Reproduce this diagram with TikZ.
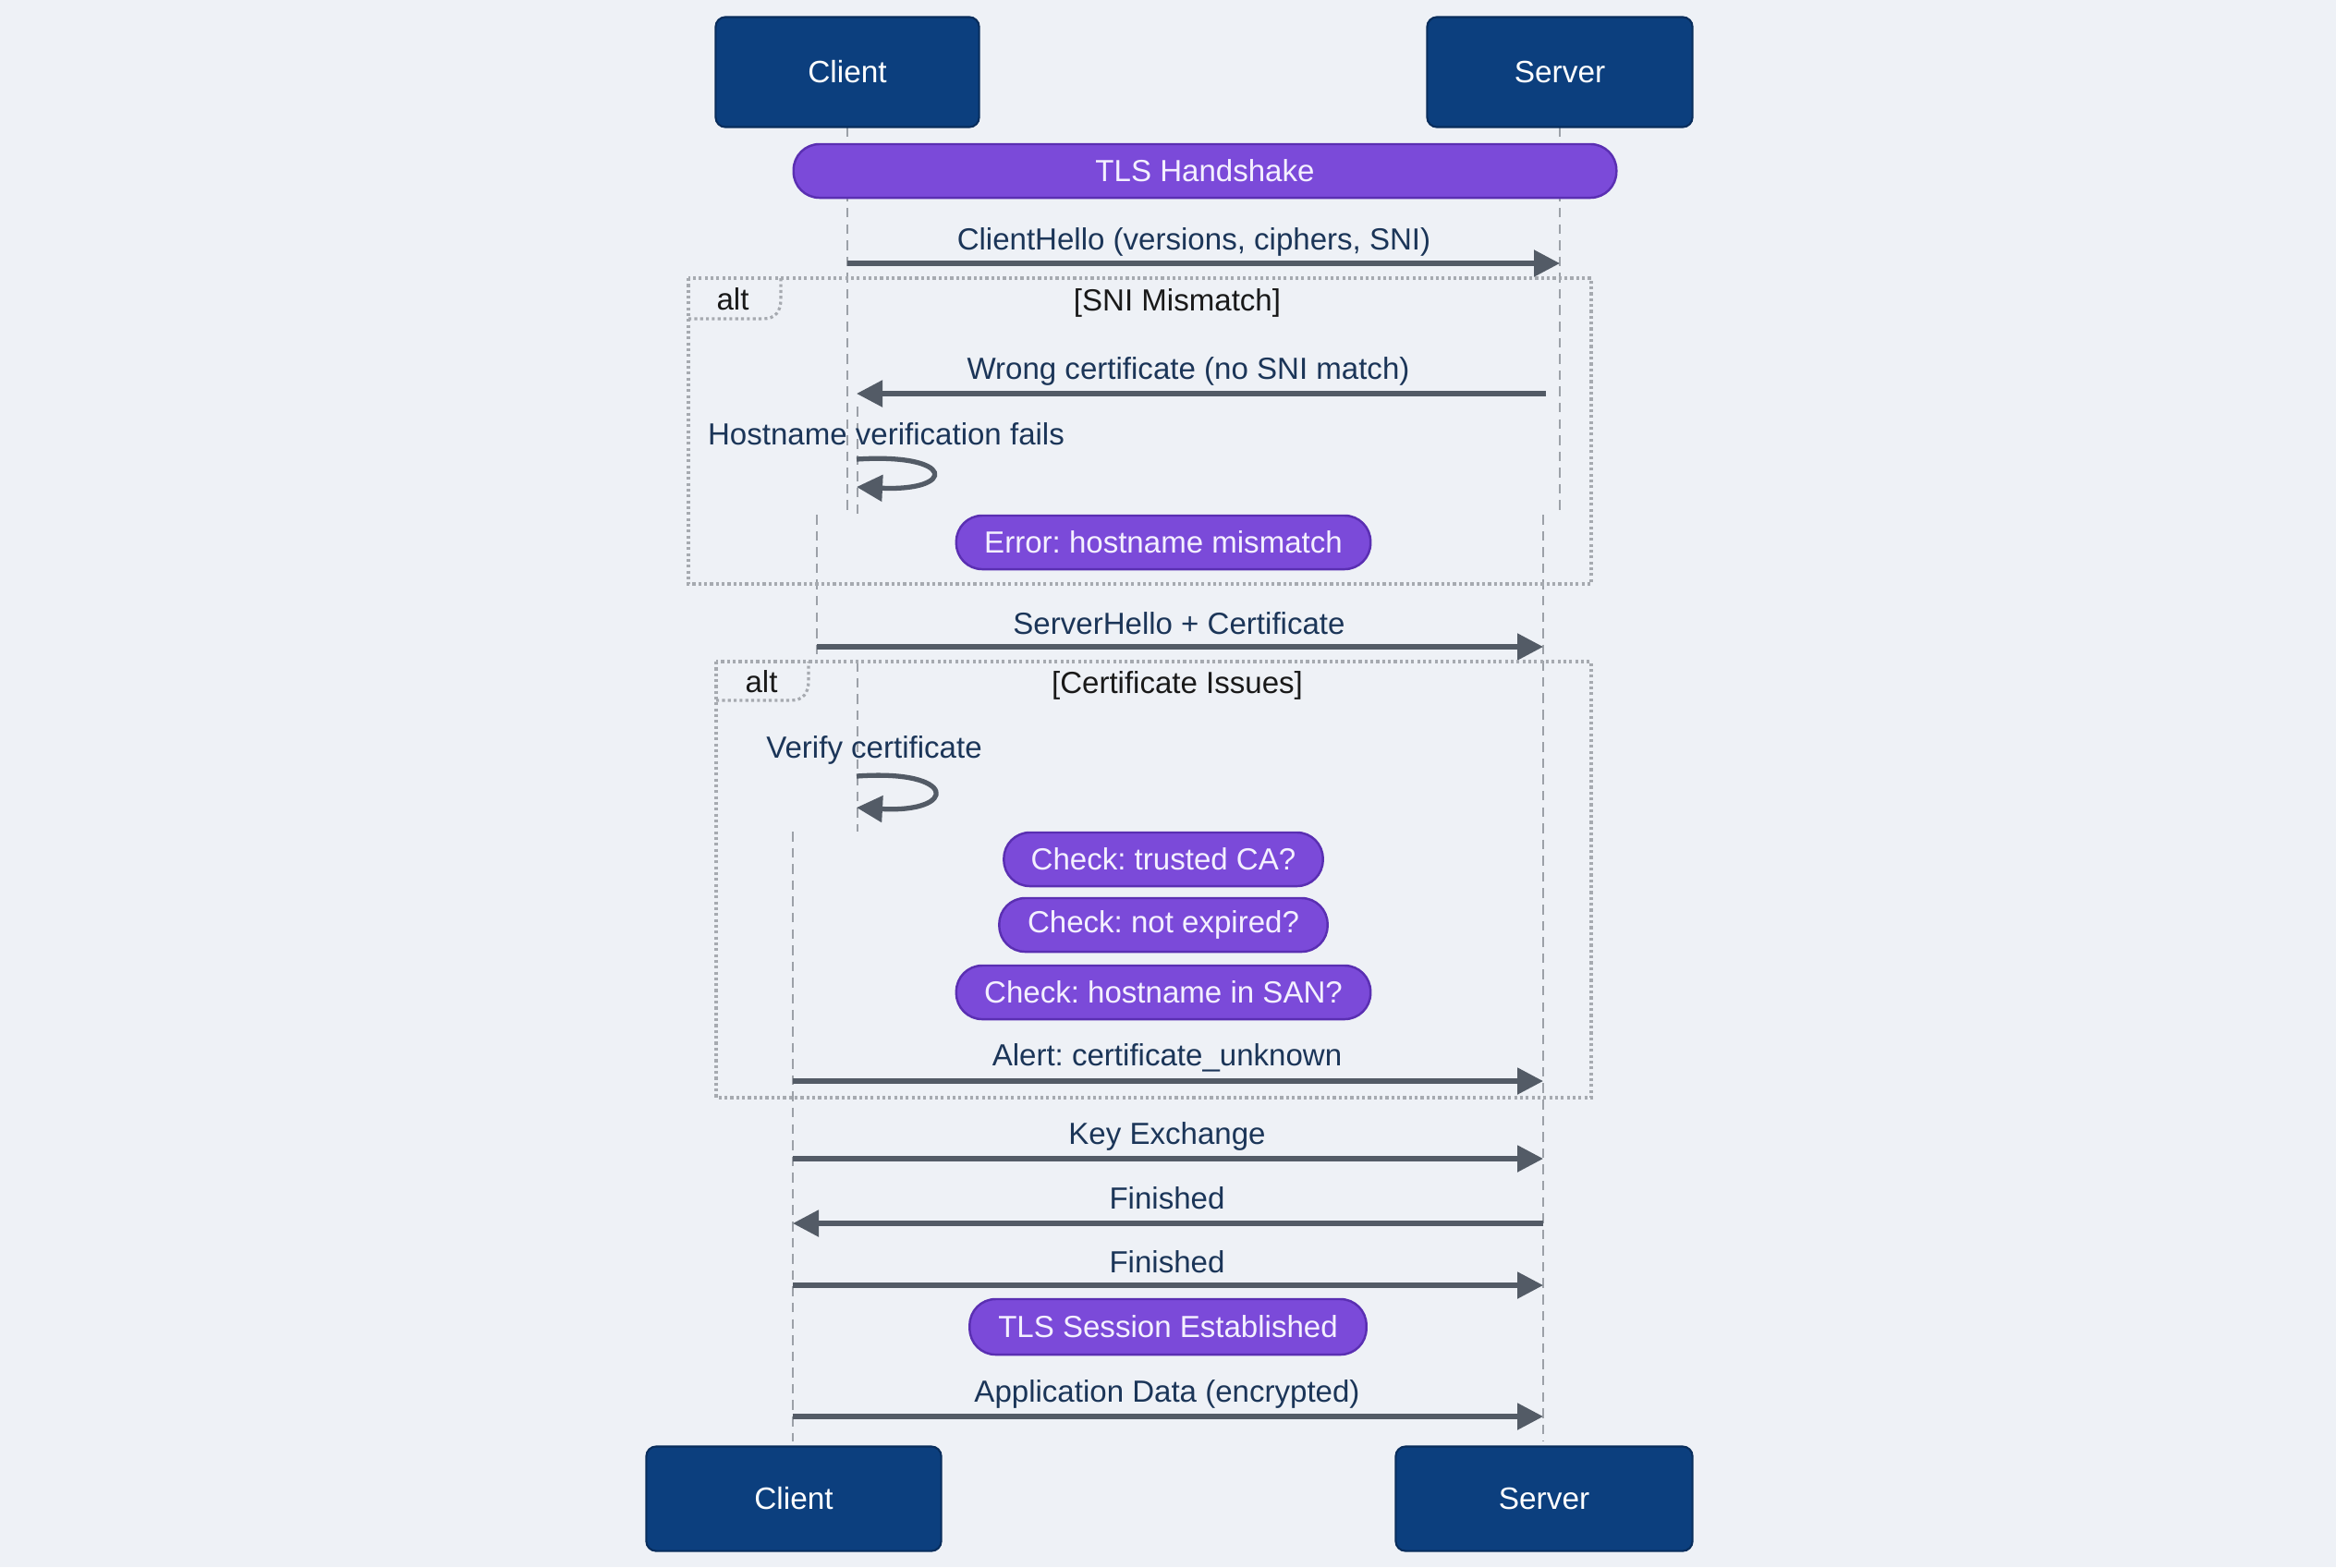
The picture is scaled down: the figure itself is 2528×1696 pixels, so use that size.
\documentclass[tikz,border=0pt]{standalone}
\usepackage{fontspec}
\setmainfont{Liberation Sans}
\usetikzlibrary{arrows.meta}
\definecolor{bg}{HTML}{EEF1F6}
\definecolor{actorfill}{HTML}{0C3F7E}
\definecolor{actorborder}{HTML}{082D5C}
\definecolor{pillfill}{HTML}{7B4AD9}
\definecolor{pillborder}{HTML}{5A2FB2}
\definecolor{pilltext}{HTML}{F4F0FF}
\definecolor{arrowgray}{HTML}{535B66}
\definecolor{labeltext}{HTML}{1B3558}
\definecolor{lifegray}{HTML}{9CA1A8}
\definecolor{framegray}{HTML}{A6AAB0}
\tikzset{
  actor/.style={draw=actorborder, fill=actorfill, rounded corners=3pt, text=white,
    font=\fontsize{9.5}{11}\selectfont, inner sep=0pt, line width=0.6pt},
  pill/.style={draw=pillborder, fill=pillfill, rounded corners=0.28cm, text=pilltext,
    font=\fontsize{9.4}{11}\selectfont, minimum height=0.58cm, inner sep=0pt, line width=0.7pt},
  msg/.style={draw=arrowgray, line width=1.5pt, -{Triangle[length=0.28cm,width=0.28cm]}},
  lbl/.style={text=labeltext, font=\fontsize{9.4}{11}\selectfont, inner sep=0pt},
  flbl/.style={text=black!90, font=\fontsize{9.4}{11}\selectfont, inner sep=0pt},
  life/.style={draw=lifegray, dash pattern=on 3pt off 2pt, line width=0.5pt},
  altframe/.style={draw=framegray, dash pattern=on 0.9pt off 0.9pt, line width=0.9pt}
}
\frenchspacing
\begin{document}
\frenchspacing
\begin{tikzpicture}[x=0.01cm,y=-0.01cm]
\fill[bg] (0,0) rectangle (2528,1696);
\useasboundingbox (0,0) rectangle (2528,1696);

% lifeline coordinates
\coordinate (c1t) at (917,137);  \coordinate (c1b) at (917,557);
\coordinate (a1t) at (928,440);  \coordinate (a1b) at (928,557);
\coordinate (s1t) at (1688,137); \coordinate (s1b) at (1688,557);
\coordinate (c2t) at (884,557);  \coordinate (c2b) at (884,716);
\coordinate (c3t) at (928,716);  \coordinate (c3b) at (928,900);
\coordinate (c4t) at (858,900);  \coordinate (c4b) at (858,1560);
\coordinate (s2t) at (1670,557); \coordinate (s2b) at (1670,1560);

\draw[life] (c1t) -- (c1b);
\draw[life] (a1t) -- (a1b);
\draw[life] (s1t) -- (s1b);
\draw[life] (c2t) -- (c2b);
\draw[life] (c3t) -- (c3b);
\draw[life] (c4t) -- (c4b);
\draw[life] (s2t) -- (s2b);

% actors
\node[actor, minimum width=2.85cm, minimum height=1.19cm] (clientTop) at (917,78) {Client};
\node[actor, minimum width=2.87cm, minimum height=1.19cm] (serverTop) at (1688,78) {Server};
\node[actor, minimum width=3.19cm, minimum height=1.13cm] (clientBot) at (859,1622) {Client};
\node[actor, minimum width=3.21cm, minimum height=1.13cm] (serverBot) at (1671,1622) {Server};

% handshake pill
\node[pill, minimum width=8.9cm] (hs) at (1304,185) {TLS Handshake};

% ClientHello
\node[lbl] (lClientHello) at (1292,262) {ClientHello (versions, ciphers, SNI)};
\coordinate (m1a) at (917,285); \coordinate (m1b) at (1688,285);
\draw[msg] (m1a) -- (m1b);

% alt frame 1
\draw[altframe] (745,301) rectangle (1722,632);
\draw[altframe] (745,345) -- (826,345) .. controls (839,345) and (845,337) .. (845,324) -- (845,301);
\node[flbl] (alt1) at (793,324) {alt};
\node[flbl] (cond1) at (1274,328) {[SNI Mismatch]};

\node[lbl] (lWrong) at (1286,402) {Wrong certificate (no SNI match)};
\coordinate (m2a) at (1673,426); \coordinate (m2b) at (927,426);
\draw[msg] (m2a) -- (m2b);

\node[lbl] (lHost) at (959,470) {Hostname verification fails};
\coordinate (l1a) at (927,497); \coordinate (l1b) at (927,527);
\draw[msg] (l1a) .. controls (1035,490) and (1035,532) .. (l1b);

\node[pill, minimum width=4.48cm] (err) at (1259,587) {Error: hostname mismatch};

% ServerHello
\node[lbl] (lServerHello) at (1276,675) {ServerHello + Certificate};
\coordinate (m3a) at (884,700); \coordinate (m3b) at (1670,700);
\draw[msg] (m3a) -- (m3b);

% alt frame 2
\draw[altframe] (775,716) rectangle (1722,1188);
\draw[altframe] (775,758) -- (856,758) .. controls (869,758) and (875,750) .. (875,737) -- (875,716);
\node[flbl] (alt2) at (824,738) {alt};
\node[flbl] (cond2) at (1274,742) {[Certificate Issues]};

\node[lbl] (lVerify) at (946,812) {Verify certificate};
\coordinate (l2a) at (927,840); \coordinate (l2b) at (927,874);
\draw[msg] (l2a) .. controls (1037,832) and (1037,880) .. (l2b);

\node[pill, minimum width=3.45cm] (chk1) at (1259,930) {Check: trusted CA?};
\node[pill, minimum width=3.55cm] (chk2) at (1259,1001) {Check: not expired?};
\node[pill, minimum width=4.48cm] (chk3) at (1259,1074) {Check: hostname in SAN?};

\node[lbl] (lAlert) at (1263,1145) {Alert: certificate\_unknown};
\coordinate (m4a) at (858,1170); \coordinate (m4b) at (1670,1170);
\draw[msg] (m4a) -- (m4b);

% remaining messages
\node[lbl] (lKey) at (1263,1230) {Key Exchange};
\coordinate (m5a) at (858,1254); \coordinate (m5b) at (1670,1254);
\draw[msg] (m5a) -- (m5b);

\node[lbl] (lFin1) at (1263,1297) {Finished};
\coordinate (m6a) at (1670,1324); \coordinate (m6b) at (858,1324);
\draw[msg] (m6a) -- (m6b);

\node[lbl] (lFin2) at (1263,1366) {Finished};
\coordinate (m7a) at (858,1391); \coordinate (m7b) at (1670,1391);
\draw[msg] (m7a) -- (m7b);

\node[pill, minimum width=4.29cm, minimum height=0.6cm] (est) at (1264,1436) {TLS Session Established};

\node[lbl] (lApp) at (1263,1509) {Application Data (encrypted)};
\coordinate (m8a) at (858,1533); \coordinate (m8b) at (1670,1533);
\draw[msg] (m8a) -- (m8b);
\end{tikzpicture}
\end{document}
